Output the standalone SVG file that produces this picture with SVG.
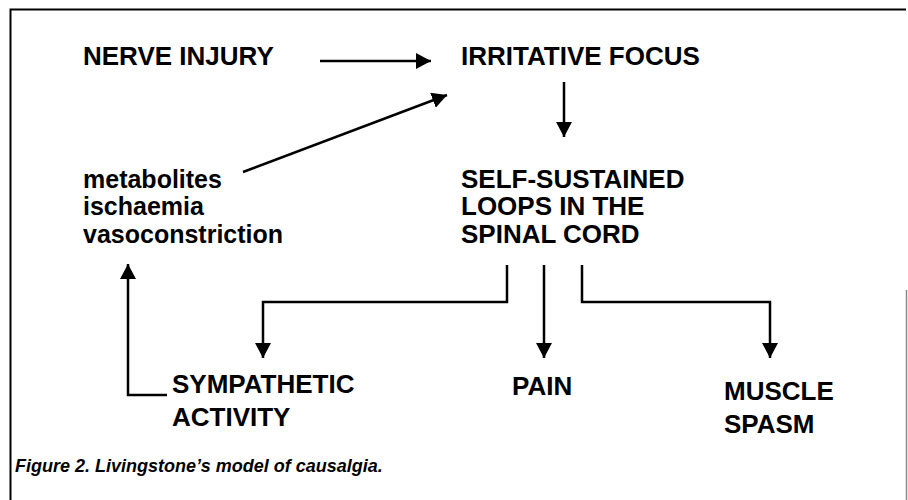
<svg xmlns="http://www.w3.org/2000/svg" width="908" height="500" viewBox="0 0 908 500">
<defs>
<style>
.t{font-family:"Liberation Sans",Arial,sans-serif;font-weight:bold;font-size:26px;fill:#000}
.l{font-size:25px}
.cap{font-family:"Liberation Sans",Arial,sans-serif;font-weight:bold;font-style:italic;font-size:18px;fill:#000}
.c{fill:none;stroke:#000;stroke-width:2.5}
</style>
<marker id="ah2" markerWidth="16" markerHeight="16" viewBox="0 0 16 16" refX="15" refY="8" orient="auto" markerUnits="userSpaceOnUse">
<path d="M0,0 L15,8 L0,16 Z" fill="#000"/>
</marker>
</defs>
<rect x="0" y="0" width="908" height="500" fill="#fff"/>
<g id="frame" fill="none" stroke="#000">
<path d="M10.5,500 V9.5 H906" stroke-width="2"/>
<path d="M906.5,290 V500" stroke="#888" stroke-width="1.5"/>
</g>
<g id="connectors">
<path class="c" d="M320,61 H431" marker-end="url(#ah2)"/>
<path class="c" d="M243,172 L447,95" marker-end="url(#ah2)"/>
<path class="c" d="M564,82 V137" marker-end="url(#ah2)"/>
<path class="c" d="M507,265 V302 H263 V358" marker-end="url(#ah2)"/>
<path class="c" d="M544,265 V358" marker-end="url(#ah2)"/>
<path class="c" d="M582,265 V302 H770 V358" marker-end="url(#ah2)"/>
<path class="c" d="M167,395 H128 V264" marker-end="url(#ah2)"/>
</g>
<g id="nerve-injury"><text class="t" x="83" y="65">NERVE INJURY</text></g>
<g id="irritative-focus"><text class="t" x="461" y="65">IRRITATIVE FOCUS</text></g>
<g id="metabolites"><text class="t l" x="83" y="188">metabolites</text><text class="t l" x="83" y="215">ischaemia</text><text class="t l" x="83" y="243">vasoconstriction</text></g>
<g id="self-sustained"><text class="t" x="461" y="188">SELF-SUSTAINED</text><text class="t" x="461" y="215">LOOPS IN THE</text><text class="t" x="461" y="243">SPINAL CORD</text></g>
<g id="sympathetic"><text class="t" x="172" y="393">SYMPATHETIC</text><text class="t" x="172" y="426">ACTIVITY</text></g>
<g id="pain"><text class="t" x="512" y="395">PAIN</text></g>
<g id="muscle-spasm"><text class="t" x="724" y="400">MUSCLE</text><text class="t" x="724" y="433">SPASM</text></g>
<g id="caption"><text class="cap" x="15" y="472">Figure 2. Livingstone’s model of causalgia.</text></g>
</svg>
